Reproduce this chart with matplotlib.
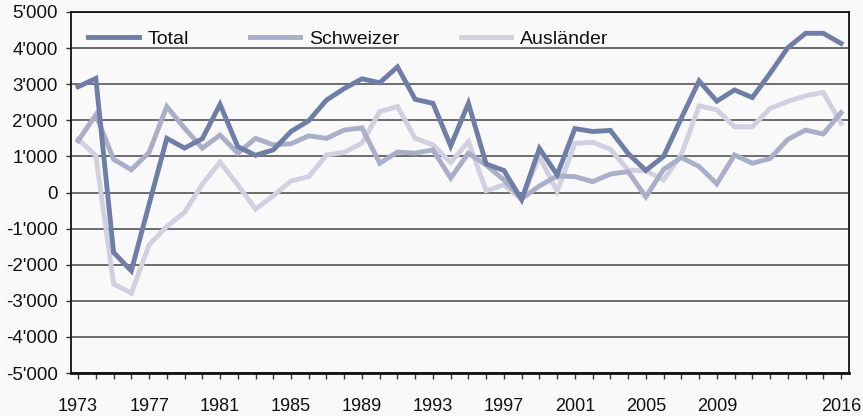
import matplotlib
matplotlib.use("Agg")
import matplotlib.pyplot as plt
from matplotlib.ticker import FuncFormatter, MultipleLocator

years = list(range(1973, 2017))
total = [2930, 3160, -1660, -2170, -330, 1500, 1230, 1490, 2440, 1270, 1030, 1180,
         1690, 1990, 2560, 2880, 3150, 3040, 3480, 2580, 2470, 1290, 2470, 790,
         610, -200, 1220, 490, 1770, 1690, 1720, 1080, 610, 1000, 2060, 3090,
         2530, 2840, 2630, 3300, 4010, 4410, 4410, 4130]
schweizer = [1430, 2150, 920, 630, 1110, 2380, 1780, 1230, 1590, 1090, 1500, 1320,
             1350, 1570, 1500, 1730, 1790, 810, 1120, 1090, 1180, 400, 1090, 760,
             350, -170, 180, 460, 440, 300, 510, 580, -120, 640, 970, 720,
             240, 1040, 810, 940, 1470, 1730, 1620, 2210]
auslaender = [1480, 1020, -2530, -2790, -1450, -940, -550, 230, 840, 210, -460, -90,
              320, 440, 1040, 1110, 1370, 2240, 2380, 1500, 1320, 830, 1410, 50,
              210, -190, 1000, 30, 1360, 1390, 1200, 620, 600, 350, 1050, 2400,
              2290, 1820, 1820, 2330, 2520, 2680, 2770, 1920]
label_years = [1973, 1977, 1981, 1985, 1989, 1993, 1997, 2001, 2005, 2009, 2016]
series_names = ["Total", "Schweizer", "Ausländer"]
colors = ["#6f7ea6", "#a9aec9", "#d0d0e0"]

plt.rcParams['font.family'] = ['Liberation Sans', 'DejaVu Sans']

fig = plt.figure(figsize=(8.63, 4.16), dpi=100, facecolor="#f9f9f9")
ax = fig.add_axes([71/863, 1-373/416, (849-71)/863, (373-12)/416])
ax.set_facecolor("#f9f9f9")

ax.plot(years, auslaender, color=colors[2], lw=3.5, zorder=3, label=series_names[2],
        solid_joinstyle="miter")
ax.plot(years, schweizer, color=colors[1], lw=3.5, zorder=4, label=series_names[1],
        solid_joinstyle="miter")
ax.plot(years, total, color=colors[0], lw=3.5, zorder=5, label=series_names[0],
        solid_joinstyle="miter")

ax.set_xlim(1972.6, 2016.45)
ax.set_ylim(-5000, 5000)
ax.yaxis.set_major_locator(MultipleLocator(1000))
ax.yaxis.set_major_formatter(FuncFormatter(lambda v, p: f"{int(v):,}".replace(",", "'")))
ax.grid(axis="y", color="#555555", lw=1.2, zorder=1)
ax.set_axisbelow(True)

ax.set_xticks(label_years)
ax.set_xticklabels([str(y) for y in label_years])
ax.set_xticks(years, minor=True)
ax.tick_params(axis="x", which="both", direction="out", length=4, width=1, color="#333333")
ax.tick_params(axis="x", which="major", pad=14, labelsize=13, labelcolor="#111111")
ax.tick_params(axis="y", direction="out", length=3.5, width=1, pad=6, labelsize=13.5,
               labelcolor="#111111", color="#333333")

for s in ["left", "right", "top"]:
    ax.spines[s].set_color("#111111")
    ax.spines[s].set_linewidth(1.3)
ax.spines["bottom"].set_color("#111111")
ax.spines["bottom"].set_linewidth(2)

handles, labels = ax.get_legend_handles_labels()
order = [2, 1, 0]
leg = ax.legend([handles[i] for i in order], [labels[i] for i in order],
                loc="center left", bbox_to_anchor=((88 - 71) / 778, (373 - 39) / 361),
                ncol=3, frameon=False, fontsize=14, handlelength=2.6, handletextpad=0.45,
                columnspacing=3.15, borderaxespad=0, borderpad=0)
for t in leg.get_texts():
    t.set_color("#111111")

fig.savefig("out.png", dpi=100, facecolor=fig.get_facecolor())
